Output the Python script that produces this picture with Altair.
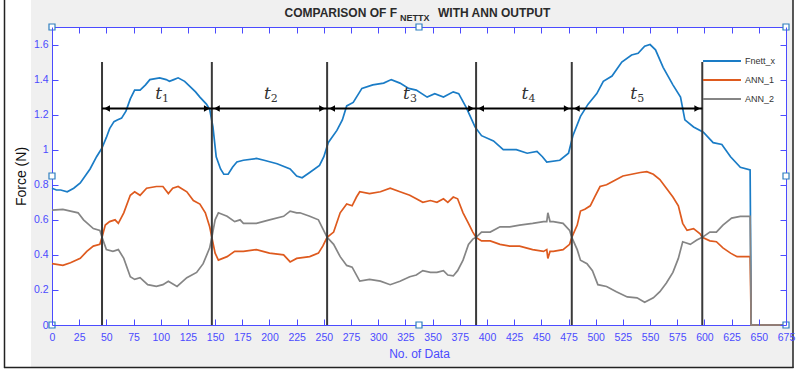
import altair as alt
import pandas as pd

# ---------------- data ----------------
fnett_idx = [0, 4, 8, 14, 20, 26, 35, 41, 44, 46, 50, 53, 57, 60, 64, 68, 72, 76, 81, 86,
             90, 99, 105, 108, 112, 116, 122, 127, 132, 136, 142, 145, 148, 151, 155, 158,
             162, 166, 170, 176, 188, 195, 207, 219, 225, 230, 237, 246, 250, 254, 262, 267,
             271, 277, 285, 295, 305, 312, 320, 328, 335, 345, 352, 360, 369, 374, 381, 389,
             395, 406, 415, 427, 437, 446, 451, 455, 467, 475, 479, 486, 493, 501, 507, 515,
             524, 533, 539, 545, 550, 555, 562, 571, 578, 582, 590, 599, 608, 616, 624, 633,
             642, 643, 675]
fnett_val = [0.78, 0.77, 0.77, 0.76, 0.78, 0.81, 0.89, 0.96, 0.99, 1.01, 1.07, 1.12, 1.16, 1.17,
             1.18, 1.22, 1.29, 1.34, 1.34, 1.37, 1.40, 1.41, 1.40, 1.39, 1.40, 1.41, 1.39, 1.36,
             1.33, 1.30, 1.26, 1.23, 1.13, 0.96, 0.89, 0.86, 0.86, 0.90, 0.93, 0.94, 0.95, 0.94,
             0.92, 0.89, 0.85, 0.84, 0.87, 0.91, 0.96, 1.04, 1.11, 1.17, 1.25, 1.27, 1.35, 1.37,
             1.38, 1.40, 1.38, 1.35, 1.34, 1.30, 1.32, 1.30, 1.33, 1.32, 1.24, 1.13, 1.08, 1.05,
             1.00, 1.00, 0.98, 0.99, 0.96, 0.93, 0.94, 0.98, 1.08, 1.19, 1.26, 1.32, 1.39, 1.42,
             1.50, 1.54, 1.55, 1.59, 1.60, 1.57, 1.47, 1.37, 1.30, 1.17, 1.13, 1.10, 1.04, 1.03,
             0.96, 0.90, 0.885, 0.0, 0.0]

ann1_idx = [0, 10, 17, 26, 32, 38, 44, 46, 49, 53, 58, 61, 66, 72, 76, 81, 87, 96, 102, 107,
            111, 116, 124, 130, 136, 141, 145, 147, 150, 153, 161, 168, 176, 188, 200, 213, 219,
            225, 237, 245, 249, 253, 259, 265, 271, 276, 280, 283, 292, 302, 311, 320, 329, 335,
            341, 348, 354, 360, 364, 369, 373, 378, 383, 387, 390, 395, 403, 412, 421, 430, 442,
            452, 455, 456, 458, 461, 470, 476, 478, 483, 486, 490, 495, 499, 504, 510, 516, 525,
            533, 541, 547, 553, 559, 565, 571, 576, 580, 584, 590, 596, 598, 605, 611, 617, 624,
            630, 642, 643, 675]
ann1_val = [0.35, 0.34, 0.355, 0.38, 0.42, 0.45, 0.46, 0.50, 0.57, 0.59, 0.60, 0.58, 0.64, 0.74,
            0.76, 0.74, 0.78, 0.79, 0.79, 0.75, 0.78, 0.79, 0.76, 0.71, 0.69, 0.64, 0.56, 0.50,
            0.41, 0.37, 0.39, 0.42, 0.42, 0.43, 0.41, 0.40, 0.36, 0.38, 0.39, 0.41, 0.45, 0.50,
            0.53, 0.64, 0.69, 0.68, 0.73, 0.76, 0.75, 0.76, 0.78, 0.76, 0.74, 0.72, 0.70, 0.71,
            0.70, 0.72, 0.70, 0.73, 0.72, 0.64, 0.58, 0.53, 0.50, 0.48, 0.48, 0.46, 0.45, 0.45,
            0.43, 0.42, 0.43, 0.38, 0.42, 0.42, 0.43, 0.46, 0.50, 0.57, 0.65, 0.66, 0.68, 0.73,
            0.79, 0.80, 0.82, 0.85, 0.86, 0.87, 0.875, 0.86, 0.83, 0.78, 0.73, 0.68, 0.58, 0.54,
            0.55, 0.52, 0.50, 0.48, 0.475, 0.44, 0.41, 0.39, 0.39, 0.0, 0.0]

ann2_idx = [0, 10, 17, 24, 29, 38, 44, 46, 50, 56, 61, 66, 72, 76, 81, 88, 96, 102, 107, 115,
            124, 133, 139, 145, 147, 150, 153, 161, 168, 173, 176, 188, 200, 213, 219, 225, 228,
            237, 245, 249, 253, 259, 265, 271, 276, 283, 292, 302, 311, 320, 329, 335, 341, 348,
            354, 360, 364, 369, 373, 378, 383, 387, 390, 395, 403, 412, 421, 430, 442, 452, 455,
            456, 458, 461, 470, 476, 478, 483, 486, 492, 497, 502, 510, 519, 529, 538, 545, 553,
            559, 565, 571, 576, 580, 587, 593, 598, 605, 611, 617, 625, 633, 642, 643, 675]
ann2_val = [0.655, 0.66, 0.65, 0.64, 0.60, 0.55, 0.54, 0.50, 0.43, 0.42, 0.43, 0.38, 0.275, 0.26,
            0.27, 0.23, 0.22, 0.23, 0.25, 0.22, 0.27, 0.30, 0.35, 0.44, 0.50, 0.60, 0.64, 0.62,
            0.59, 0.60, 0.58, 0.58, 0.60, 0.62, 0.65, 0.64, 0.64, 0.62, 0.60, 0.55, 0.50, 0.46,
            0.39, 0.34, 0.33, 0.25, 0.26, 0.25, 0.23, 0.25, 0.275, 0.285, 0.31, 0.30, 0.30, 0.31,
            0.285, 0.28, 0.31, 0.37, 0.46, 0.49, 0.50, 0.53, 0.53, 0.56, 0.56, 0.57, 0.58, 0.59,
            0.59, 0.64, 0.59, 0.59, 0.58, 0.54, 0.50, 0.43, 0.37, 0.35, 0.31, 0.23, 0.22, 0.19,
            0.16, 0.155, 0.13, 0.155, 0.19, 0.24, 0.30, 0.38, 0.475, 0.46, 0.485, 0.50, 0.53,
            0.53, 0.57, 0.61, 0.62, 0.62, 0.0, 0.0]

series_names = ["Fnett_x", "ANN_1", "ANN_2"]
series_colors = ["#1a7cc6", "#DE5a1e", "#858585"]

boundaries = [46, 147, 253, 390, 478, 598]
boundary_top = 1.5
arrow_level = 1.235
phase_digits = ["1", "2", "3", "4", "5"]
phase_label_x = [98, 198, 326, 435, 535]
phase_label_y = 1.32

x_ticks = list(range(0, 676, 25))
y_ticks = [0, 0.2, 0.4, 0.6, 0.8, 1.0, 1.2, 1.4, 1.6]
x_domain = [0, 675]
y_domain = [0, 1.7]
handle_x = [0, 0, 0, 337.5, 337.5, 675, 675, 675]
handle_y = [0, 0.85, 1.7, 0, 1.7, 0, 0.85, 1.7]

# ---------------- styling ----------------
AX = "#4b4bff"
FONT = "Liberation Sans"
W, H = 734, 298

xs = alt.Scale(domain=x_domain, nice=False, zero=False)
ys = alt.Scale(domain=y_domain, nice=False)
cs = alt.Scale(domain=series_names, range=series_colors)

legend = alt.Legend(orient="none", legendX=664, legendY=28, title=None,
                    symbolType="M-4,0H4", symbolSize=90, symbolStrokeWidth=2,
                    labelOffset=17, labelFontSize=9, labelFont=FONT, labelColor="#333333",
                    rowPadding=8, padding=0)

bottom_axis = alt.Axis(orient="bottom", values=x_ticks, offset=-6, tickSize=6, domain=False,
                       grid=False, tickColor=AX, labelColor=AX, labelFont=FONT, labelFontSize=10.5,
                       labelPadding=7, labelOverlap=False, labelFlush=False, zindex=1,
                       title="No. of Data", titleColor=AX, titleFont=FONT, titleFontSize=12,
                       titleFontWeight="normal", titlePadding=6)
left_axis = alt.Axis(orient="left", values=y_ticks, offset=-6, tickSize=6, domain=False,
                     grid=False, tickColor=AX, labelColor=AX, labelFont=FONT, labelFontSize=10.5,
                     labelPadding=4, format="~g", labelOverlap=False, labelFlush=False, zindex=1,
                     title="Force (N)", titleColor="#111111", titleFont=FONT, titleFontSize=14,
                     titleFontWeight="normal", titlePadding=5)
top_axis = alt.Axis(orient="top", values=x_ticks, offset=-6, tickSize=6, domain=False, grid=False,
                    tickColor=AX, labels=False, title=None, zindex=1)
right_axis = alt.Axis(orient="right", values=y_ticks, offset=-6, tickSize=6, domain=False,
                      grid=False, tickColor=AX, labels=False, title=None, zindex=1)

def series_df(name, idx, val):
    return pd.DataFrame({"idx": idx, "val": val, "series": name})

df_f = series_df("Fnett_x", fnett_idx, fnett_val)
df_1 = series_df("ANN_1", ann1_idx, ann1_val)
df_2 = series_df("ANN_2", ann2_idx, ann2_val)

# ---------------- decoration (figure frame) ----------------
deco = pd.DataFrame({"k": [0]})
white_left = alt.Chart(deco).mark_rect(color="white").encode(
    x=alt.value(-52), x2=alt.value(-21), y=alt.value(-27), y2=alt.value(343))
white_bottom = alt.Chart(deco).mark_rect(color="white").encode(
    x=alt.value(-52), x2=alt.value(744), y=alt.value(340), y2=alt.value(343))
white_right = alt.Chart(deco).mark_rect(color="white").encode(
    x=alt.value(741), x2=alt.value(744), y=alt.value(-27), y2=alt.value(343))
frame_left = alt.Chart(deco).mark_rule(color="#222222", strokeWidth=1.5).encode(
    x=alt.value(-47.5), y=alt.value(-27), y2=alt.value(341))
frame_bottom = alt.Chart(deco).mark_rule(color="#222222", strokeWidth=1.5).encode(
    x=alt.value(-48), x2=alt.value(741.5), y=alt.value(340.5))
frame_right = alt.Chart(deco).mark_rule(color="#222222", strokeWidth=1.5).encode(
    x=alt.value(741), y=alt.value(-27), y2=alt.value(341))

# ---------------- series ----------------
def line_layer(df, x_axis=None, y_axis=None):
    return alt.Chart(df).mark_line(strokeWidth=1.7, clip=False).encode(
        x=alt.X("idx:Q", scale=xs, axis=x_axis),
        y=alt.Y("val:Q", scale=ys, axis=y_axis),
        color=alt.Color("series:N", scale=cs, legend=legend),
        order=alt.Order("idx:Q"),
    )

l_f = line_layer(df_f, bottom_axis, left_axis)
l_1 = line_layer(df_1)
l_2 = line_layer(df_2)

# ---------------- phase boundaries and arrows ----------------
bdf = pd.DataFrame({"b": boundaries, "y0": [0] * len(boundaries), "y1": [boundary_top] * len(boundaries)})
vlines = alt.Chart(bdf).mark_rule(color="#3a3a3a", strokeWidth=2).encode(
    x=alt.X("b:Q", scale=xs, axis=None), y=alt.Y("y0:Q", scale=ys, axis=None), y2="y1:Q")

adf = pd.DataFrame({"s": boundaries[:-1], "e": boundaries[1:], "y": [arrow_level] * (len(boundaries) - 1)})
arrows = alt.Chart(adf).mark_rule(color="black", strokeWidth=2).encode(
    x=alt.X("s:Q", scale=xs, axis=None), x2="e:Q", y=alt.Y("y:Q", scale=ys, axis=None))
heads_l = alt.Chart(adf).mark_point(shape="triangle-left", filled=True, color="black", size=45,
                                    xOffset=5, opacity=1).encode(
    x=alt.X("s:Q", scale=xs, axis=None), y=alt.Y("y:Q", scale=ys, axis=None))
heads_r = alt.Chart(adf).mark_point(shape="triangle-right", filled=True, color="black", size=45,
                                    xOffset=-5, opacity=1).encode(
    x=alt.X("e:Q", scale=xs, axis=None), y=alt.Y("y:Q", scale=ys, axis=None))

tdf = pd.DataFrame({"x": phase_label_x, "y": [phase_label_y] * len(phase_label_x), "d": phase_digits})
t_main = alt.Chart(tdf).mark_text(text="t", font="DejaVu Serif", fontStyle="italic", fontSize=17,
                                  color="#333333").encode(
    x=alt.X("x:Q", scale=xs, axis=None), y=alt.Y("y:Q", scale=ys, axis=None))
t_sub = alt.Chart(tdf).mark_text(font="DejaVu Serif", fontSize=11, color="#333333", dx=7, dy=5).encode(
    x=alt.X("x:Q", scale=xs, axis=None), y=alt.Y("y:Q", scale=ys, axis=None), text="d:N")

# ---------------- selection handles + top/right axes ----------------
hdf = pd.DataFrame({"hx": handle_x, "hy": handle_y})
handles = alt.Chart(hdf).mark_point(shape="square", filled=True, fill="white", stroke="#2f7fbf",
                                    strokeWidth=1.2, size=36, opacity=1, clip=False).encode(
    x=alt.X("hx:Q", scale=xs, axis=top_axis), y=alt.Y("hy:Q", scale=ys, axis=right_axis))

# ---------------- title ----------------
title_a = alt.Chart(deco).mark_text(text="COMPARISON OF F", font=FONT, fontWeight="bold", fontSize=12,
                                    color="#2b2b2b", align="right", baseline="alphabetic").encode(
    x=alt.value(345), y=alt.value(-10))
title_b = alt.Chart(deco).mark_text(text="NETTX", font=FONT, fontWeight="bold", fontSize=9,
                                    color="#2b2b2b", align="left", baseline="alphabetic").encode(
    x=alt.value(348), y=alt.value(-6))
title_c = alt.Chart(deco).mark_text(text="WITH ANN OUTPUT", font=FONT, fontWeight="bold", fontSize=12,
                                    color="#2b2b2b", align="left", baseline="alphabetic").encode(
    x=alt.value(386), y=alt.value(-10))

chart = alt.layer(
    white_left, white_bottom, white_right, frame_left, frame_bottom, frame_right,
    l_f, l_1, l_2, vlines, arrows, heads_l, heads_r, t_main, t_sub, handles,
    title_a, title_b, title_c,
).resolve_axis(x="independent", y="independent").properties(
    width=W, height=H, background="#f0f0f0",
    padding={"left": 52, "top": 27, "right": 10, "bottom": 45},
    autosize=alt.AutoSizeParams(type="none"),
).configure_view(stroke=AX, strokeWidth=1, fill="white")

chart.save("out.html", embed_options={"renderer": "svg", "actions": False})
